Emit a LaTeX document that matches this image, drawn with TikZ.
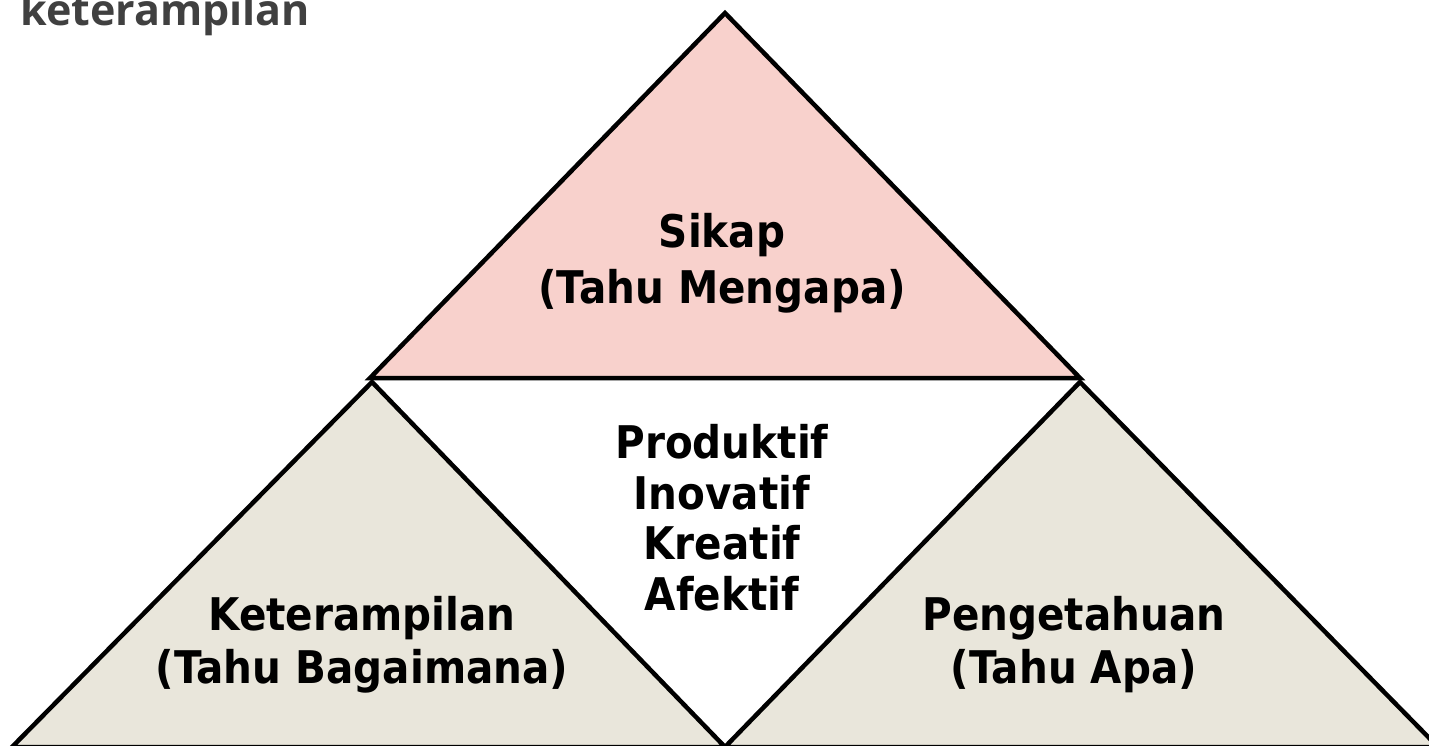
\documentclass[tikz,border=0pt]{standalone}
\usepackage{fontspec}
\usepackage{xcolor}
\setmainfont{DejaVu Sans}[FakeStretch = 0.9]
\newfontfamily\headfont{Open Sans}
\definecolor{sikappink}{RGB}{248,209,204}
\definecolor{kbeige}{RGB}{233,230,219}
\definecolor{headgray}{RGB}{64,64,64}
\tikzset{
	tri/.style = {draw = black, line width = 4.5pt, line join = miter},
	lbl/.style = {align = center, font = \fontsize{45}{56}\selectfont\bfseries, inner sep = 0pt, anchor = base}
}

\begin{document}
\begin{tikzpicture}[x = 1pt, y = -1pt]
		\useasboundingbox (0,0) rectangle (1429,745);
		\begin{scope}
		\clip (0,0) rectangle (1429,745);
		\coordinate (apex) at (725,13);
		\coordinate (sl) at (370,378);
		\coordinate (sr) at (1080,378);
		\coordinate (kl) at (12,747);
		\coordinate (mid) at (725,747);
		\coordinate (pr) at (1438,747);
		\coordinate (ka) at (372,382);
		\coordinate (pa) at (1080,382);
		\filldraw[tri, fill = sikappink] (apex) -- (sl) -- (sr) -- cycle;
		\filldraw[tri, fill = kbeige] (ka) -- (kl) -- (mid) -- cycle;
		\filldraw[tri, fill = kbeige] (pa) -- (mid) -- (pr) -- cycle;
		\node[anchor = base west, inner sep = 0pt, text = headgray, font = \headfont\fontsize{43}{50}\selectfont\bfseries] (judul) at (20,25) {keterampilan};
		\end{scope}
		\node[lbl] (sikap) at (722,303) {Sikap\\(Tahu Mengapa)};
		\node[lbl, font = \fontsize{45}{50.5}\selectfont\bfseries] (sifat) at (722,610) {Produktif\\Inovatif\\Kreatif\\Afektif};
		\node[lbl, font = \fontsize{45}{53}\selectfont\bfseries] (ketr) at (362,683) {Keterampilan\\(Tahu Bagaimana)};
		\node[lbl, font = \fontsize{45}{53}\selectfont\bfseries] (peng) at (1074,683) {Pengetahuan\\(Tahu Apa)};
	\end{tikzpicture}
\end{document}
